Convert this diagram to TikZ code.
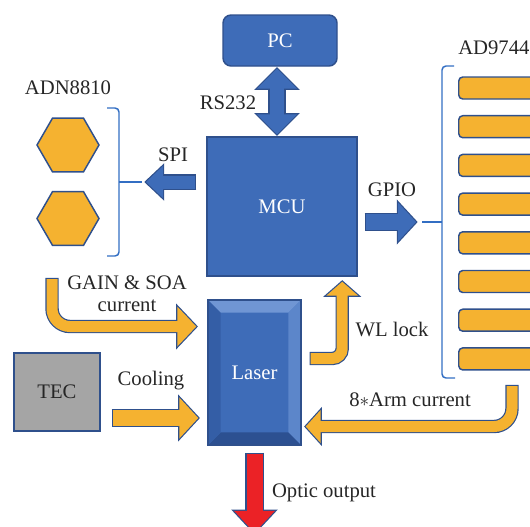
\documentclass[tikz,border=0pt]{standalone}
\usepackage{fontspec}
\setmainfont{Liberation Serif}
\usetikzlibrary{calc,shapes.geometric}

\definecolor{boxblue}{RGB}{62,108,184}
\definecolor{edgeblue}{RGB}{47,80,140}
\definecolor{amber}{RGB}{245,178,48}
\definecolor{brkblue}{RGB}{50,110,195}
\definecolor{tecgray}{RGB}{165,165,165}
\definecolor{optred}{RGB}{235,34,38}
\definecolor{bevlight}{RGB}{112,150,212}
\definecolor{bevright}{RGB}{92,134,202}
\definecolor{bevleft}{RGB}{52,94,166}
\definecolor{bevdark}{RGB}{44,80,145}

% block arrow: #1 fill, #2 shaft width, #3 half head width, #4 head length,
% #5 path up to #6, #6 last point before the head, #7 tip
\newcommand{\fatarrow}[7]{%
  \coordinate (fa base) at ($(#7)!#4!(#6)$);
  \coordinate (fa end) at ($(fa base)!0.6pt!(#7)$);
  \coordinate (fa l) at ($(fa base)!#3!90:(#7)$);
  \coordinate (fa r) at ($(fa base)!#3!-90:(#7)$);
  \draw[edgeblue, line width=#2+1.8pt, shorten <=-0.9pt] #5 -- (fa end);
  \filldraw[edgeblue, line width=1.8pt, line join=miter] (fa l) -- (#7) -- (fa r) -- cycle;
  \draw[#1, line width=#2] #5 -- (fa end);
  \fill[#1] (fa l) -- (#7) -- (fa r) -- cycle;
}

\begin{document}
\begin{tikzpicture}[
    x=0.75pt, y=-0.75pt,
    font=\rmfamily\fontsize{15.5}{16.5}\selectfont,
    lbl/.style={inner sep=0pt, text=black!85},
    blk/.style={draw=edgeblue, fill=boxblue, line width=1.1pt, text=white},
    laserbox/.style={blk, minimum width=69.75pt, minimum height=108.75pt,
        path picture={
            \coordinate (bnw) at (path picture bounding box.north west);
            \coordinate (bne) at (path picture bounding box.north east);
            \coordinate (bsw) at (path picture bounding box.south west);
            \coordinate (bse) at (path picture bounding box.south east);
            \fill[bevlight] (bnw) -- (bne) -- ($(bne)+(-9.5pt,-9.5pt)$) -- ($(bnw)+(9.5pt,-9.5pt)$) -- cycle;
            \fill[bevright] (bne) -- (bse) -- ($(bse)+(-9.5pt,9.5pt)$) -- ($(bne)+(-9.5pt,-9.5pt)$) -- cycle;
            \fill[bevdark] (bse) -- (bsw) -- ($(bsw)+(9.5pt,9.5pt)$) -- ($(bse)+(-9.5pt,9.5pt)$) -- cycle;
            \fill[bevleft] (bsw) -- (bnw) -- ($(bnw)+(9.5pt,-9.5pt)$) -- ($(bsw)+(9.5pt,9.5pt)$) -- cycle;
        }},
    tecbox/.style={draw=edgeblue, fill=tecgray, line width=1.1pt, text=black!85,
        minimum width=64.5pt, minimum height=58.5pt},
    hexa/.style={regular polygon, regular polygon sides=6, minimum size=46.5pt,
        inner sep=0pt, draw=edgeblue, fill=amber, line width=1.1pt},
    barbox/.style={draw=edgeblue, fill=amber, line width=1.1pt, rounded corners=3pt,
        minimum width=80pt, minimum height=16.5pt, inner sep=0pt, anchor=west},
    brk/.style={draw=brkblue, line width=1.1pt, rounded corners=3pt},
]
\useasboundingbox (0,0) rectangle (530,526);
\clip (0,0) rectangle (530,526);

% boxes
\node[blk, rounded corners=6pt, minimum width=85.5pt, minimum height=38.25pt] (pc) at (280,40.5) {PC};
\node[blk, minimum width=112.5pt, minimum height=104.25pt] (mcu) at (282,206.5) {MCU};
\node[laserbox] (laser) at (254.5,372.5) {Laser};
\node[tecbox] (tec) at (57,392) {TEC};

% ADN8810
\node[lbl] (adn) at (68,88) {ADN8810};
\node[hexa] (hex1) at (68,145) {};
\node[hexa] (hex2) at (68,218.5) {};
\draw[brk] (107,108) -- (119,108) -- (119,256) -- (107,256);
\draw[brk] (119,182) -- (142,182) coordinate (lbrt);

% AD9744
\node[lbl, anchor=west] (ad) at (458,48) {AD9744};
\foreach \i in {0,...,7}
    \node[barbox] (bar\i) at (458,{88+38.7*\i}) {};
\draw[brk] (454,66) -- (442,66) -- (442,378) -- (455,378);
\draw[brk] (442,222) -- (422,222) coordinate (rbrt);

% labels
\node[lbl] (rs) at (228,103) {RS232};
\node[lbl] (spi) at (173,155) {SPI};
\node[lbl] (gpio) at (392,190) {GPIO};
\node[lbl, align=center] (gain) at (127,294) {GAIN \& SOA\\current};
\node[lbl] (cool) at (151,381) {Cooling};
\node[lbl] (wl) at (392,329) {WL lock};
\node[lbl] (arm) at (410,400) {8$*$Arm current};
\node[lbl] (optic) at (324,493) {Optic output};

% RS232 (two heads)
\coordinate (rsa) at ($(pc.south)+(-3,2)$);
\coordinate (rsb) at ($(rsa |- mcu.north)+(0,-2)$);
\coordinate (rsa base) at ($(rsa)!15pt!(rsb)$);
\coordinate (rsb base) at ($(rsb)!15pt!(rsa)$);
\draw[edgeblue, line width=12.8pt] ($(rsa base)!-0.6pt!(rsb)$) -- ($(rsb base)!-0.6pt!(rsa)$);
\filldraw[edgeblue, line width=1.8pt, line join=miter]
    ($(rsa base)!15pt!90:(rsa)$) -- (rsa) -- ($(rsa base)!15pt!-90:(rsa)$) -- cycle
    ($(rsb base)!15pt!90:(rsb)$) -- (rsb) -- ($(rsb base)!15pt!-90:(rsb)$) -- cycle;
\draw[boxblue, line width=11pt] ($(rsa base)!-0.6pt!(rsb)$) -- ($(rsb base)!-0.6pt!(rsa)$);
\fill[boxblue]
    ($(rsa base)!15pt!90:(rsa)$) -- (rsa) -- ($(rsa base)!15pt!-90:(rsa)$) -- cycle
    ($(rsb base)!15pt!90:(rsb)$) -- (rsb) -- ($(rsb base)!15pt!-90:(rsb)$) -- cycle;

% SPI
\coordinate (spis) at ($(mcu.west)+(-11,-24.5)$);
\coordinate (spit) at ($(lbrt)+(4,0)$);
\fatarrow{boxblue}{9.75pt}{12pt}{12.75pt}{(spis)}{spis}{spit}

% GPIO
\coordinate (gpis) at ($(mcu.east)+(8,15.5)$);
\coordinate (gpit) at ($(rbrt)+(-6,0)$);
\fatarrow{boxblue}{12pt}{14.6pt}{13.5pt}{(gpis)}{gpis}{gpit}

% GAIN & SOA current
\coordinate (gs) at (52,279);
\coordinate (gt) at ($(laser.west)+(-11,-46)$);
\coordinate (gc) at (gs |- gt);
\fatarrow{amber}{8.25pt}{15pt}{14.25pt}{(gs) [rounded corners=13.5pt] -- (gc)}{gc}{gt}

% Cooling
\coordinate (cs) at ($(tec.east)+(12,26)$);
\coordinate (ct) at ($(laser.west |- cs)+(-9,0)$);
\fatarrow{amber}{12pt}{15.4pt}{14.25pt}{(cs)}{cs}{ct}

% WL lock
\coordinate (ws) at ($(laser.east)+(9,-14)$);
\coordinate (wc) at ($(ws)+(31.5,0)$);
\coordinate (wt) at ($(wc |- mcu.south)+(0,5)$);
\fatarrow{amber}{8.25pt}{12pt}{10.5pt}{(ws) [rounded corners=7.5pt] -- (wc)}{wc}{wt}

% 8*Arm current
\coordinate (as) at (512,386);
\coordinate (at) at ($(laser.east)+(4,54)$);
\coordinate (ac) at (as |- at);
\fatarrow{amber}{8.25pt}{12.4pt}{11.25pt}{(as) [rounded corners=13.5pt] -- (ac)}{ac}{at}

% Optic output
\coordinate (os) at ($(laser.south)+(0,8)$);
\coordinate (ot) at ($(os)+(0,79)$);
\fatarrow{optred}{12pt}{15.4pt}{16.5pt}{(os)}{os}{ot}

\end{tikzpicture}
\end{document}
